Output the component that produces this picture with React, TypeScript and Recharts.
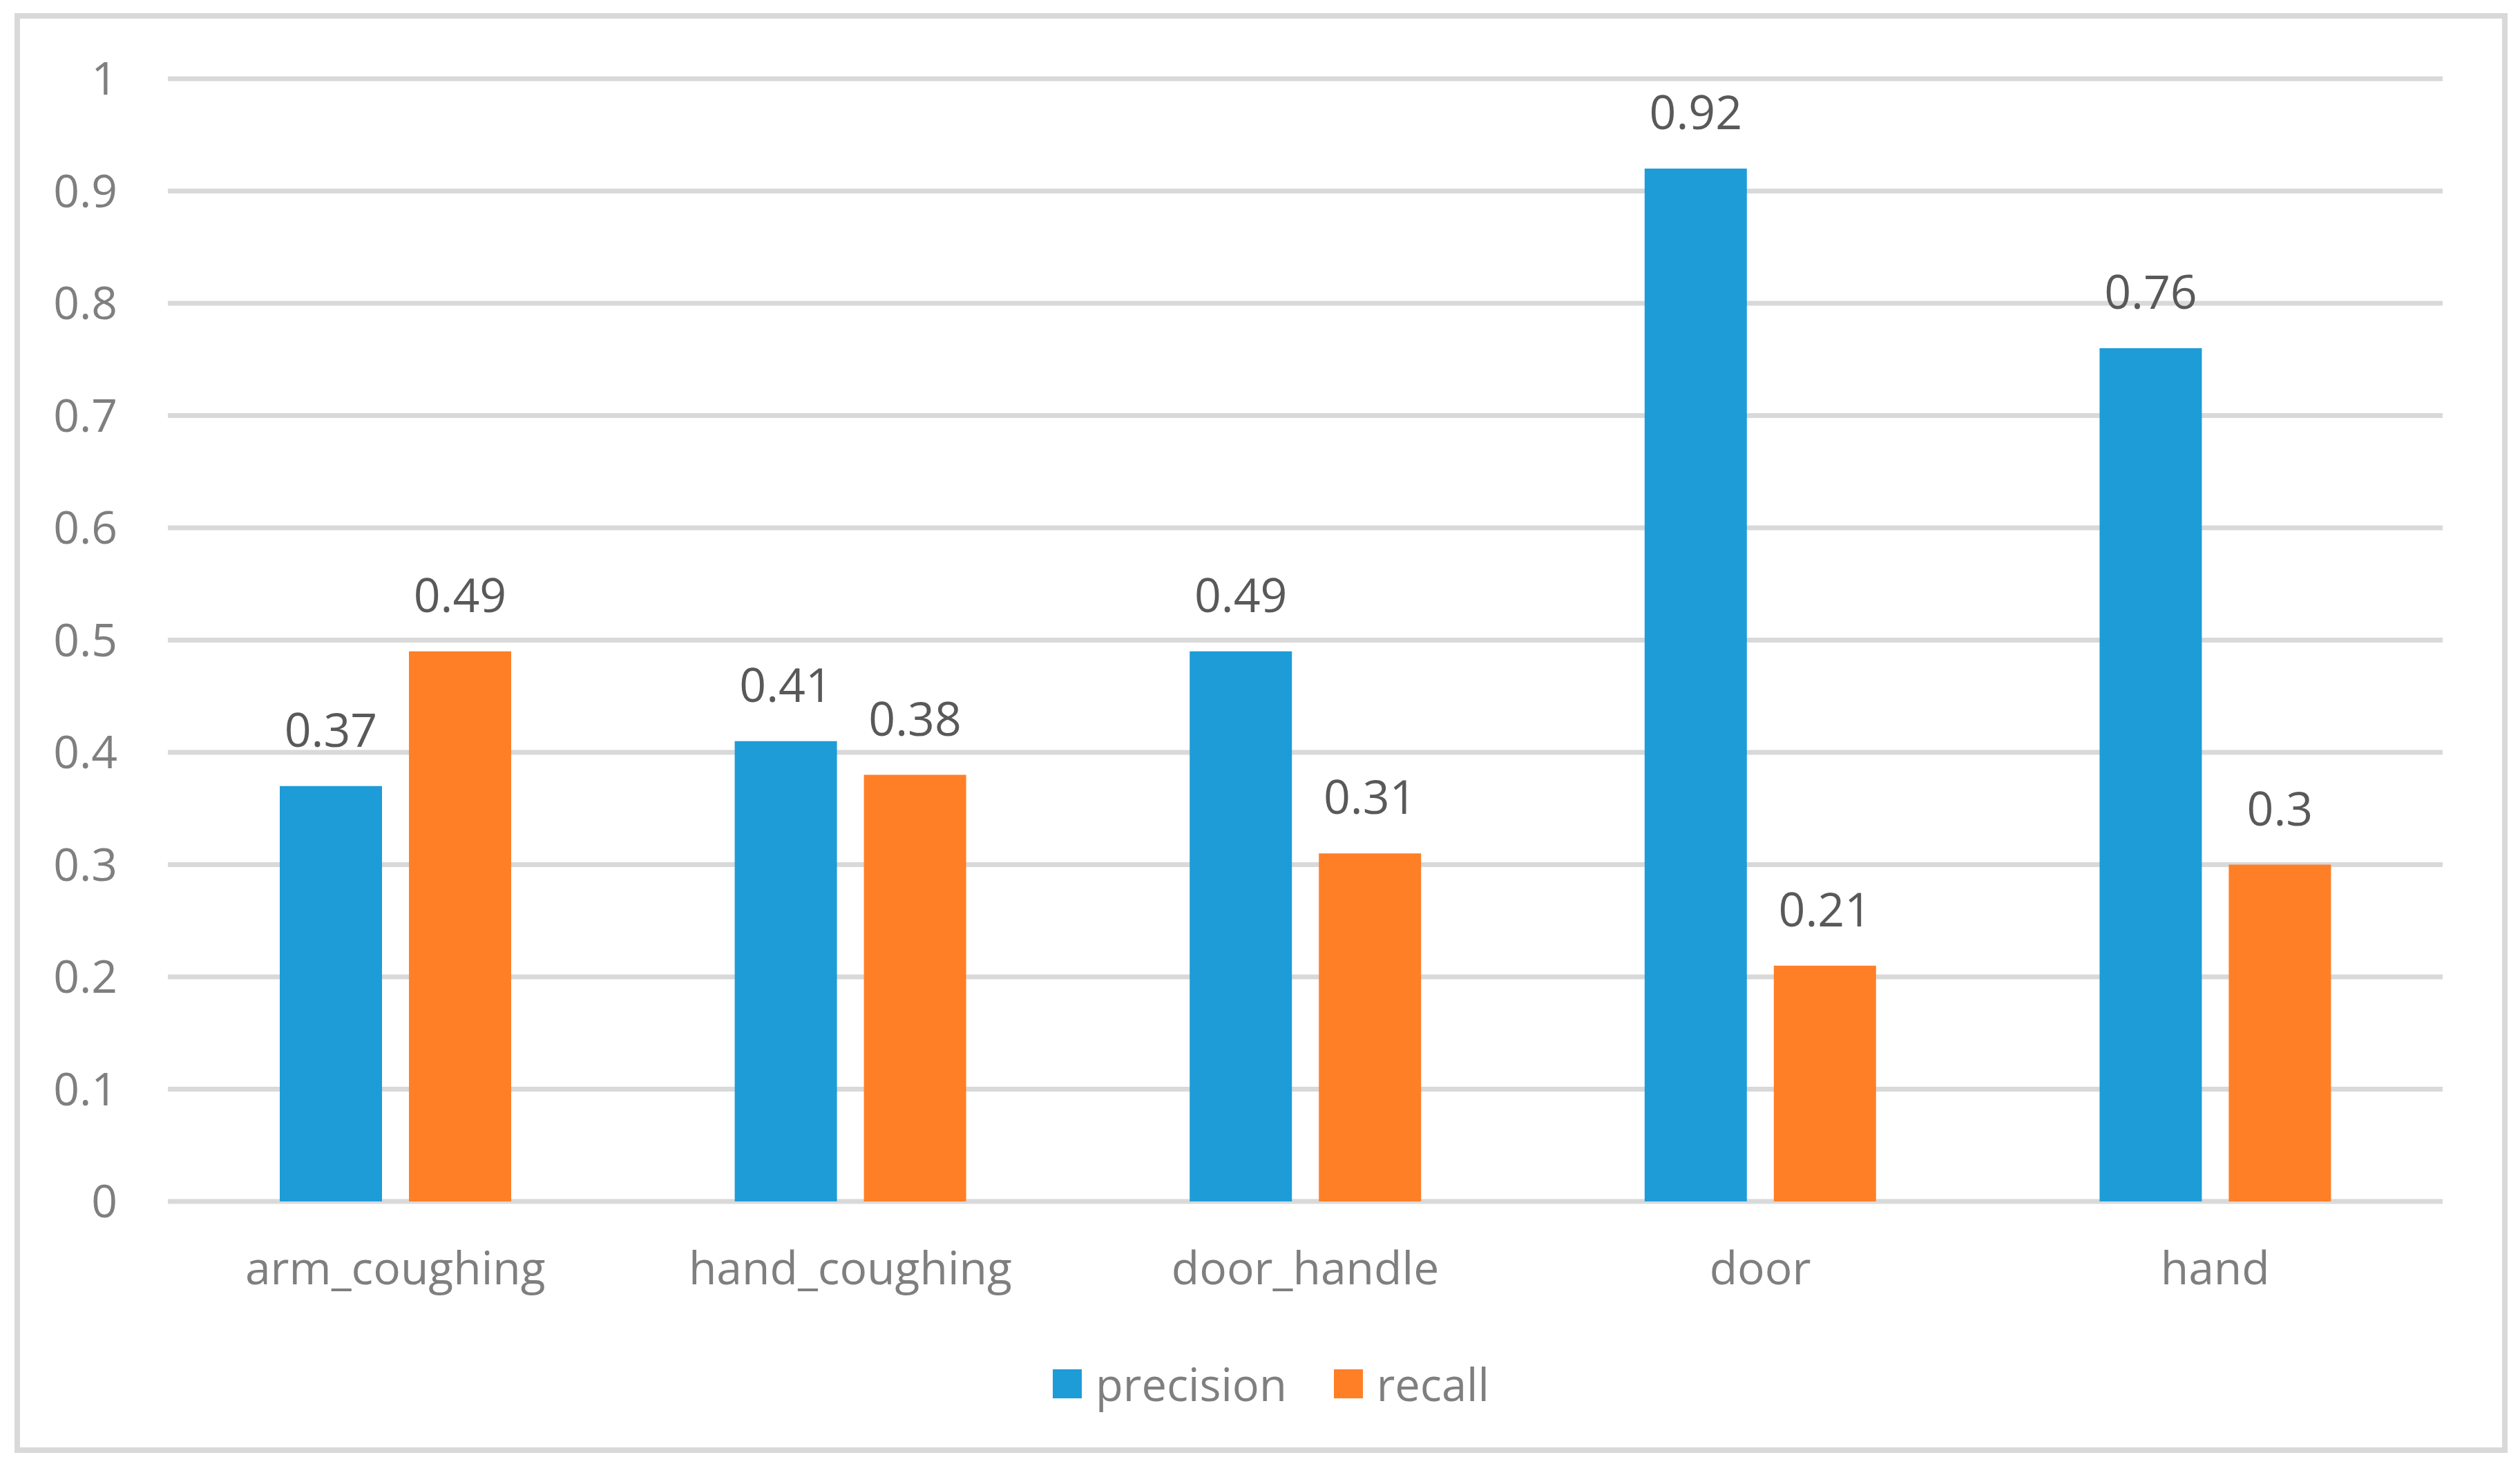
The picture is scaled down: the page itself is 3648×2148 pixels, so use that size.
import { BarChart, Bar, XAxis, YAxis, CartesianGrid, Legend, LabelList } from 'recharts'

const categories = ['arm_coughing', 'hand_coughing', 'door_handle', 'door', 'hand']
const precision = [0.37, 0.41, 0.49, 0.92, 0.76]
const recall = [0.49, 0.38, 0.31, 0.21, 0.3]
const yTicks = [0, 0.1, 0.2, 0.3, 0.4, 0.5, 0.6, 0.7, 0.8, 0.9, 1]

const COLORS = { precision: '#1e9cd8', recall: '#ff7f27' }
const FONT = '"Open Sans", "Noto Sans", sans-serif'

const data = categories.map((name, i) => ({ name, precision: precision[i], recall: recall[i] }))

function LegendContent() {
  const items = [
    { key: 'precision', color: COLORS.precision },
    { key: 'recall', color: COLORS.recall },
  ]
  return (
    <div style={{ display: 'flex', justifyContent: 'center', alignItems: 'center', fontFamily: FONT, paddingLeft: 32 }}>
      {items.map((it, i) => (
        <div key={it.key} style={{ display: 'flex', alignItems: 'center', marginLeft: i === 0 ? 0 : 68 }}>
          <div style={{ width: 42, height: 42, background: it.color, marginRight: 20 }} />
          <span style={{ fontSize: 65, color: '#7f7f7f', lineHeight: '80px' }}>{it.key}</span>
        </div>
      ))}
    </div>
  )
}

export default function App() {
  return (
    <div style={{ position: 'absolute', left: 0, top: 0, width: 3648, height: 2148, background: '#fff' }}>
      <div
        style={{
          position: 'absolute',
          left: 21,
          top: 19,
          width: 3609,
          height: 2084,
          boxSizing: 'border-box',
          border: '8px solid #d9d9d9',
        }}
      />
      <div style={{ position: 'absolute', left: 0, top: 0 }}>
        <BarChart
          width={3648}
          height={2148}
          data={data}
          margin={{ top: 114, right: 112, left: 0, bottom: 259 }}
          barSize={148}
          barGap={39}
        >
          <CartesianGrid vertical={false} stroke="#d9d9d9" strokeWidth={7} />
          <XAxis
            dataKey="name"
            axisLine={false}
            tickLine={false}
            tickSize={0}
            tickMargin={73}
            height={150}
            interval={0}
            tick={{ fontSize: 66, fill: '#7f7f7f', fontFamily: FONT }}
          />
          <YAxis
            domain={[0, 1]}
            ticks={yTicks}
            width={243}
            axisLine={false}
            tickLine={false}
            tickSize={0}
            tickMargin={73}
            tick={{ fontSize: 66, fill: '#7f7f7f', fontFamily: FONT }}
          />
          <Legend
            verticalAlign="middle"
            align="center"
            content={<LegendContent />}
            wrapperStyle={{ top: 1963, left: 0, width: 3648 }}
          />
          <Bar dataKey="precision" fill={COLORS.precision} isAnimationActive={false}>
            <LabelList dataKey="precision" position="top" offset={57} fill="#595959" fontSize={68} fontFamily={FONT} />
          </Bar>
          <Bar dataKey="recall" fill={COLORS.recall} isAnimationActive={false}>
            <LabelList dataKey="recall" position="top" offset={57} fill="#595959" fontSize={68} fontFamily={FONT} />
          </Bar>
        </BarChart>
      </div>
    </div>
  )
}
